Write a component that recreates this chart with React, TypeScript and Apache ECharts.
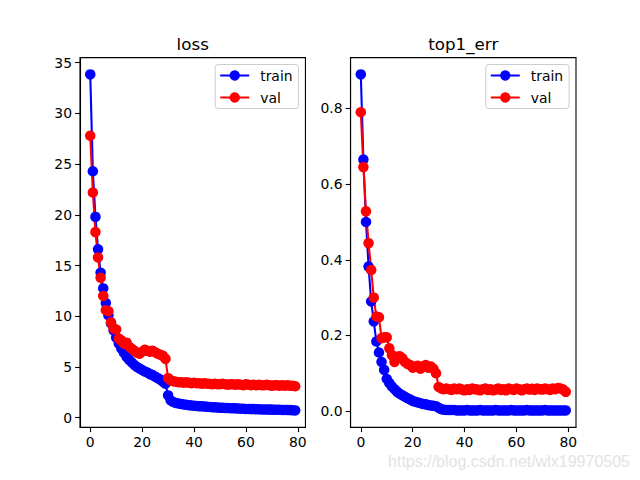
import React, { useEffect, useRef } from "react";
import * as echarts from "echarts";

const epochs: number[] = Array.from({ length: 80 }, (_, i) => i);

const lossTrain: number[] = [
  33.85, 24.3, 19.8, 16.6, 14.3, 12.75, 11.3, 10.1, 9.3, 8.6,
  7.9, 7.3, 6.8, 6.4, 6.0, 5.7, 5.45, 5.2, 5.0, 4.85,
  4.7, 4.55, 4.45, 4.3, 4.2, 4.05, 3.9, 3.75, 3.55, 3.35,
  2.2, 1.7, 1.55, 1.45, 1.4, 1.35, 1.3, 1.27, 1.24, 1.21,
  1.18, 1.16, 1.14, 1.12, 1.1, 1.08, 1.06, 1.04, 1.02, 1.0,
  0.99, 0.97, 0.96, 0.95, 0.94, 0.93, 0.92, 0.9, 0.89, 0.88,
  0.87, 0.86, 0.85, 0.85, 0.84, 0.83, 0.82, 0.82, 0.81, 0.8,
  0.8, 0.79, 0.78, 0.78, 0.77, 0.76, 0.76, 0.75, 0.74, 0.72,
];

const lossVal: number[] = [
  27.8, 22.2, 18.3, 15.8, 13.8, 12.0, 10.6, 10.5, 9.4, 8.8,
  8.7, 7.8, 7.6, 7.3, 7.4, 7.0, 6.8, 6.6, 6.4, 6.3,
  6.5, 6.7, 6.6, 6.5, 6.6, 6.45, 6.3, 6.2, 6.1, 5.8,
  3.9, 3.7, 3.6, 3.55, 3.5, 3.5, 3.45, 3.5, 3.45, 3.4,
  3.45, 3.4, 3.4, 3.35, 3.4, 3.35, 3.35, 3.3, 3.35, 3.3,
  3.3, 3.35, 3.3, 3.25, 3.3, 3.3, 3.25, 3.3, 3.25, 3.2,
  3.3, 3.25, 3.2, 3.25, 3.2, 3.25, 3.2, 3.2, 3.25, 3.2,
  3.15, 3.2, 3.2, 3.15, 3.2, 3.15, 3.2, 3.15, 3.15, 3.1,
];

const top1Train: number[] = [
  0.89, 0.665, 0.5, 0.382, 0.29, 0.237, 0.184, 0.155, 0.13, 0.109,
  0.085, 0.074, 0.065, 0.058, 0.051, 0.046, 0.042, 0.038, 0.034, 0.031,
  0.027, 0.025, 0.023, 0.021, 0.019, 0.018, 0.016, 0.015, 0.014, 0.013,
  0.009, 0.005, 0.004, 0.003, 0.003, 0.003, 0.003, 0.002, 0.002, 0.002,
  0.002, 0.003, 0.002, 0.002, 0.002, 0.002, 0.003, 0.002, 0.002, 0.002,
  0.002, 0.002, 0.003, 0.002, 0.002, 0.002, 0.002, 0.002, 0.003, 0.002,
  0.002, 0.002, 0.002, 0.002, 0.003, 0.002, 0.002, 0.002, 0.002, 0.002,
  0.002, 0.003, 0.002, 0.002, 0.002, 0.002, 0.002, 0.002, 0.002, 0.002,
];

const top1Val: number[] = [
  0.79, 0.645, 0.528, 0.444, 0.373, 0.3, 0.25, 0.248, 0.193, 0.195,
  0.195, 0.166, 0.148, 0.13, 0.144, 0.145, 0.14, 0.13, 0.125, 0.122,
  0.115, 0.118, 0.12, 0.112, 0.118, 0.122, 0.115, 0.118, 0.112, 0.1,
  0.064, 0.06, 0.058, 0.06, 0.058, 0.056, 0.06, 0.058, 0.06, 0.057,
  0.055, 0.058, 0.056, 0.06, 0.058, 0.057, 0.055, 0.058, 0.06, 0.056,
  0.058, 0.055, 0.057, 0.06, 0.056, 0.058, 0.055, 0.06, 0.058, 0.056,
  0.06, 0.058, 0.055, 0.058, 0.06, 0.057, 0.059, 0.056, 0.06, 0.058,
  0.057, 0.06, 0.058, 0.056, 0.06, 0.058, 0.061, 0.06, 0.057, 0.051,
];

const lossTicks: number[] = [0, 5, 10, 15, 20, 25, 30, 35];
const errTicks: number[] = [0, 0.2, 0.4, 0.6, 0.8];
const xTicks: number[] = [0, 20, 40, 60, 80];
const titles: string[] = ["loss", "top1_err"];
const seriesNames: string[] = ["train", "val"];
const watermark = "https://blog.csdn.net/wlx19970505";

function bounds(arrs: number[][]) {
  const all = arrs.flat();
  const mn = Math.min(...all);
  const mx = Math.max(...all);
  const pad = (mx - mn) * 0.05;
  return { min: mn - pad, max: mx + pad };
}

const FONT = "DejaVu Sans";
const LBL = 13.9;

export default function App() {
  const ref = useRef<HTMLDivElement>(null);
  useEffect(() => {
    if (!ref.current) return;
    const chart = echarts.init(ref.current, undefined, { renderer: "svg" });
    const xb = bounds([epochs]);
    const yb0 = bounds([lossTrain, lossVal]);
    const yb1 = bounds([top1Train, top1Val]);
    const axL = 80, axW = 225.45, axR2 = 350.55, axT = 57.6, axH = 369.6;
    const grids = [
      { left: axL, top: axT, width: axW, height: axH, show: true, borderColor: "#000", borderWidth: 1.1, backgroundColor: "#fff" },
      { left: axR2, top: axT, width: axW, height: axH, show: true, borderColor: "#000", borderWidth: 1.1, backgroundColor: "#fff" },
    ];
    const mkX = (gi: number) => ({
      type: "value",
      gridIndex: gi,
      min: xb.min,
      max: xb.max,
      splitLine: { show: false },
      axisLine: { show: true, onZero: false, lineStyle: { color: "#000", width: 1.1 } },
      axisTick: { show: true, length: 4.9, lineStyle: { color: "#000", width: 1.1 }, customValues: xTicks },
      axisLabel: { color: "#000", fontFamily: FONT, fontSize: LBL, margin: 8, customValues: xTicks },
    });
    const mkY = (gi: number, b: any, ticks: number[], fmt: (v: number) => string) => ({
      type: "value",
      gridIndex: gi,
      min: b.min,
      max: b.max,
      splitLine: { show: false },
      axisLine: { show: true, onZero: false, lineStyle: { color: "#000", width: 1.1 } },
      axisTick: { show: true, length: 4.9, lineStyle: { color: "#000", width: 1.1 }, customValues: ticks },
      axisLabel: { color: "#000", fontFamily: FONT, fontSize: LBL, margin: 8, customValues: ticks, formatter: fmt },
    });
    const mkSeries = (name: string, gi: number, vals: number[], color: string) => ({
      name,
      type: "line",
      xAxisIndex: gi,
      yAxisIndex: gi,
      data: vals.map((v, i) => [epochs[i], v]),
      symbol: "circle",
      symbolSize: 10.5,
      showSymbol: true,
      showAllSymbol: true,
      lineStyle: { color, width: 2.1 },
      itemStyle: { color },
      emphasis: { disabled: true },
    });
    const mkLegend = (rightPx: number) => ({
      data: seriesNames,
      orient: "vertical",
      right: rightPx,
      top: 64.5,
      itemWidth: 29,
      itemHeight: 13,
      itemGap: 8,
      padding: [4, 6, 4, 4],
      backgroundColor: "rgba(255,255,255,0.8)",
      borderColor: "#cccccc",
      borderWidth: 1,
      borderRadius: 3,
      selectedMode: false,
      textStyle: { color: "#000", fontFamily: FONT, fontSize: LBL, padding: [0, 0, 0, 6] },
    });
    chart.setOption({
      animation: false,
      backgroundColor: "#fff",
      grid: grids,
      xAxis: [mkX(0), mkX(1)],
      yAxis: [
        mkY(0, yb0, lossTicks, (v: number) => String(Math.round(v))),
        mkY(1, yb1, errTicks, (v: number) => v.toFixed(1)),
      ],
      legend: [mkLegend(640 - (axL + axW - 6.9)), mkLegend(640 - (axR2 + axW - 6.9))],
      series: [
        mkSeries(seriesNames[0], 0, lossTrain, "#0000ff"),
        mkSeries(seriesNames[1], 0, lossVal, "#ff0000"),
        mkSeries(seriesNames[0], 1, top1Train, "#0000ff"),
        mkSeries(seriesNames[1], 1, top1Val, "#ff0000"),
      ],
      graphic: [
        { type: "text", x: axL + axW / 2, y: 43.5, style: { text: titles[0], fill: "#000", font: `16.7px '${FONT}'`, textAlign: "center", textVerticalAlign: "middle" } },
        { type: "text", x: axR2 + axW / 2, y: 43.5, style: { text: titles[1], fill: "#000", font: `16.7px '${FONT}'`, textAlign: "center", textVerticalAlign: "middle" } },
        { type: "text", x: 630, y: 461, z: 100, style: { text: watermark, fill: "#e3e3e3", font: "16px 'Liberation Sans'", textAlign: "right", textVerticalAlign: "middle" } },
      ],
    });
    return () => chart.dispose();
  }, []);
  return <div ref={ref} style={{ position: "fixed", left: 0, top: 0, width: 640, height: 480 }} />;
}
